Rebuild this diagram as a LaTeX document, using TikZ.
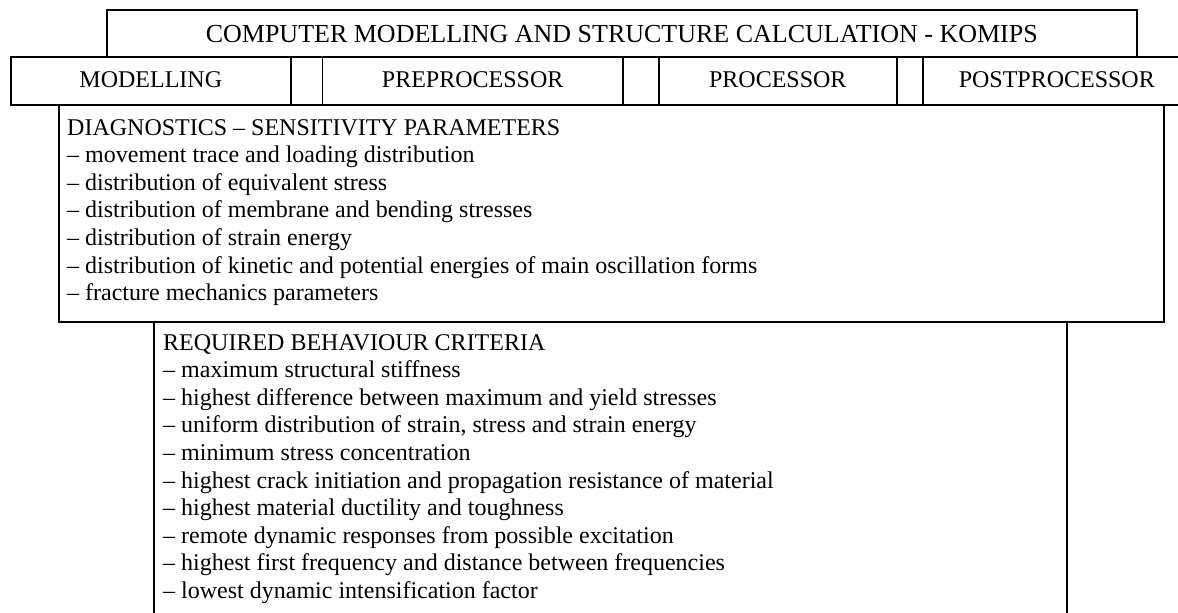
\documentclass[tikz,border=0pt]{standalone}
\usepackage{fontspec}
\setmainfont{Liberation Serif}
\begin{document}
\begin{tikzpicture}[x=1pt,y=-1pt,
  box/.style={draw, line width=1.6pt, rectangle, inner sep=0pt, anchor=north west},
  txt/.style={inner sep=0pt, font=\fontsize{24}{27.6}\selectfont},
  headtxt/.style={inner sep=0pt, font=\fontsize{26}{30}\selectfont},
]
\useasboundingbox (0,0) rectangle (1178,613);
\clip (0,0) rectangle (1178,613);
% boxes
\node[box, minimum width=1030pt, minimum height=47pt] (title) at (106,9) {};
\node[box, minimum width=280pt, minimum height=48pt] (modelling) at (10,56) {};
\node[box, minimum width=31.7pt, minimum height=48pt] (gapa) at (290,56) {};
\node[box, minimum width=300.3pt, minimum height=48pt] (preproc) at (321.7,56) {};
\node[box, minimum width=36pt,  minimum height=48pt] (gapb) at (622,56) {};
\node[box, minimum width=238pt, minimum height=48pt] (proc) at (658,56) {};
\node[box, minimum width=26pt,  minimum height=48pt] (gapc) at (896,56) {};
\node[box, minimum width=268pt, minimum height=48pt] (postproc) at (922,56) {};
\node[box, minimum width=1105pt, minimum height=217pt] (diag) at (58,104) {};
\node[box, minimum width=913pt, minimum height=340pt] (req) at (153,321) {};
% labels
\node[headtxt, anchor=base] (titletxt) at (title.center |- 0,42.3) {COMPUTER MODELLING AND STRUCTURE CALCULATION - KOMIPS};
\node[txt, anchor=base] (modtxt) at (modelling.center |- 0,87.3) {MODELLING};
\node[txt, anchor=base] (pretxt) at (preproc.center |- 0,87.3) {PREPROCESSOR};
\node[txt, anchor=base] (proctxt) at (proc.center |- 0,87.3) {PROCESSOR};
\node[txt, anchor=base] (posttxt) at (postproc.center |- 0,87.3) {POSTPROCESSOR};
% diagnostics list
\foreach \t [count=\i] in {
  {DIAGNOSTICS – SENSITIVITY PARAMETERS},
  {– movement trace and loading distribution},
  {– distribution of equivalent stress},
  {– distribution of membrane and bending stresses},
  {– distribution of strain energy},
  {– distribution of kinetic and potential energies of main oscillation forms},
  {– fracture mechanics parameters}}
  \node[txt, anchor=base west] (d\i) at (67,{135+(\i-1)*27.6}) {\t};
% required list
\foreach \t [count=\i] in {
  {REQUIRED BEHAVIOUR CRITERIA},
  {– maximum structural stiffness},
  {– highest difference between maximum and yield stresses},
  {– uniform distribution of strain, stress and strain energy},
  {– minimum stress concentration},
  {– highest crack initiation and propagation resistance of material},
  {– highest material ductility and toughness},
  {– remote dynamic responses from possible excitation},
  {– highest first frequency and distance between frequencies},
  {– lowest dynamic intensification factor}}
  \node[txt, anchor=base west] (r\i) at (163,{350+(\i-1)*27.6}) {\t};
\end{tikzpicture}
\end{document}
